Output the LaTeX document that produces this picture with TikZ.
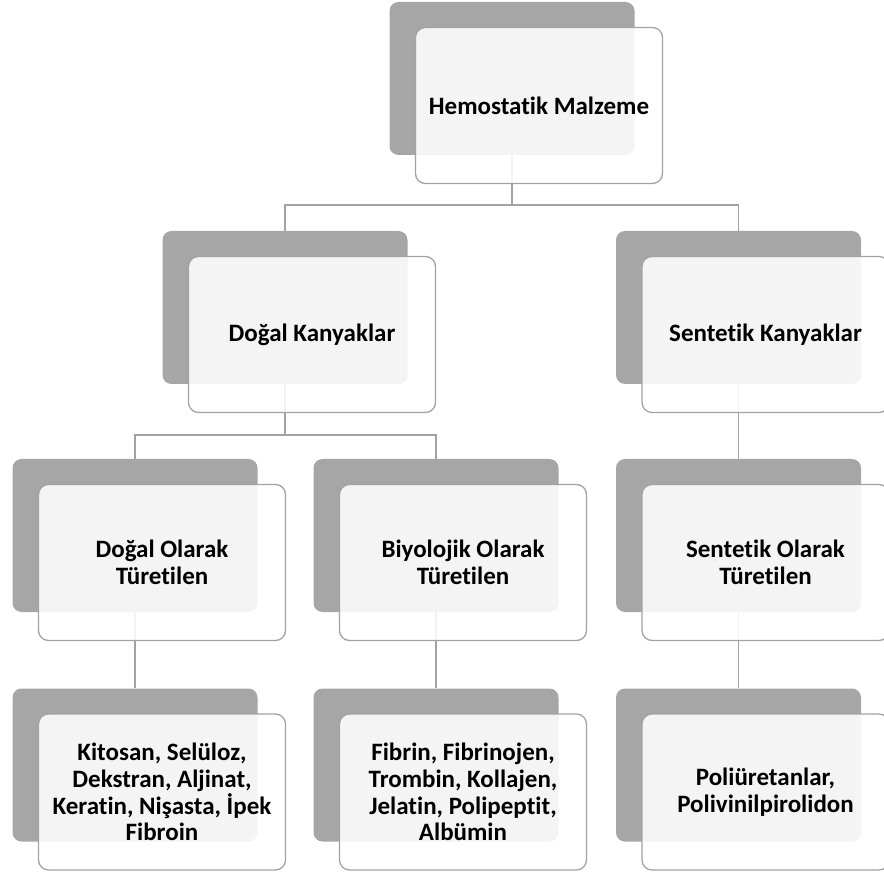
\documentclass[tikz,border=0pt]{standalone}
\usepackage{fontspec}
\setmainfont{Carlito}[Ligatures=NoCommon]
\usetikzlibrary{positioning, calc, backgrounds}
\definecolor{backgray}{HTML}{A6A6A6}
\definecolor{linegray}{HTML}{A3A3A3}
\tikzset{
  backbox/.style={fill=backgray, rounded corners=9pt, minimum width=245pt, minimum height=153pt, inner sep=0pt},
  frontbox/.style={fill=white, fill opacity=0.88, text opacity=1, draw=linegray, line width=1.3pt,
    rounded corners=10pt, minimum width=247pt, minimum height=156pt, align=center,
    font=\fontsize{25}{26.7}\selectfont\bfseries},
  conn/.style={draw=linegray, line width=1.4pt}
}
\newcommand{\boxList}{%
  hemo/512/78.5/{Hemostatik Malzeme},
  dogal/285/307.5/{Doğal Kanyaklar},
  sent/738.5/307.5/{Sentetik Kanyaklar},
  dogalT/135/535.5/{Doğal Olarak\\Türetilen},
  biyoT/436/535.5/{Biyolojik Olarak\\Türetilen},
  sentT/738.5/535.5/{Sentetik Olarak\\Türetilen},
  dogalL/135/765/{Kitosan, Selüloz,\\Dekstran, Aljinat,\\Keratin, Nişasta, İpek\\Fibroin},
  biyoL/436/765/{Fibrin, Fibrinojen,\\Trombin, Kollajen,\\Jelatin, Polipeptit,\\Albümin},
  sentL/738.5/765/{Poliüretanlar,\\Polivinilpirolidon}}

\begin{document}
\begin{tikzpicture}[x=1pt, y=-1pt]
  \useasboundingbox (0,0) rectangle (884,874);
  \foreach \n/\x/\y/\t in \boxList {
    \node[backbox] (\n B) at (\x,\y) {};
    \node[frontbox, xshift=27pt, yshift=-27pt] (\n) at (\n B) {\t};
  }
  \begin{scope}[on background layer]
    \draw[conn] (hemoB.south) -- ++(0,50) -| (dogalB.north);
    \draw[conn] (hemoB.south) -- ++(0,50) -| (sentB.north);
    \draw[conn] (dogalB.south) -- ++(0,51) -| (dogalTB.north);
    \draw[conn] (dogalB.south) -- ++(0,51) -| (biyoTB.north);
    \draw[conn] (sentB.south) -- (sentTB.north);
    \draw[conn] (dogalTB.south) -- (dogalLB.north);
    \draw[conn] (biyoTB.south) -- (biyoLB.north);
    \draw[conn] (sentTB.south) -- (sentLB.north);
  \end{scope}
\end{tikzpicture}
\end{document}
